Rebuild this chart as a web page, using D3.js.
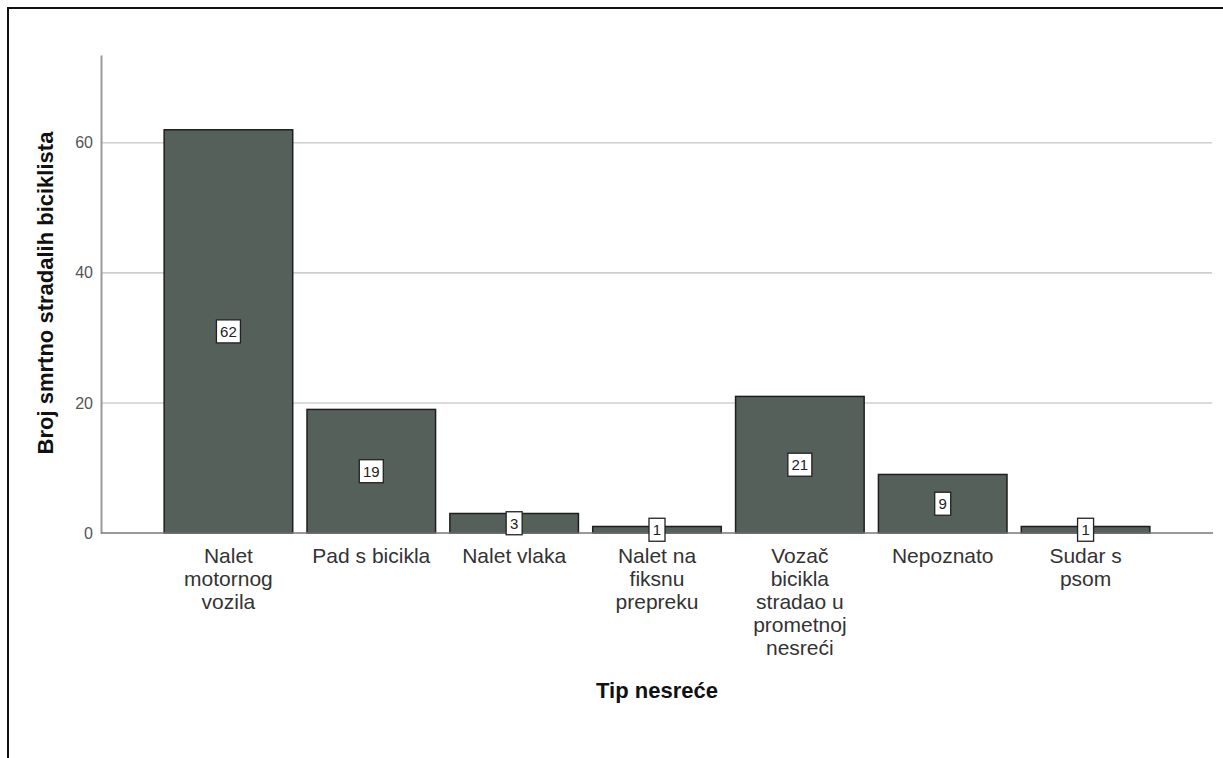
<!DOCTYPE html>
<html>
<head>
<meta charset="utf-8">
<script src="https://cdn.jsdelivr.net/npm/d3@7"></script>
<style>
  body { margin: 0; background: #fff; }
  svg { display: block; font-family: Arial, "Liberation Sans", sans-serif; }
</style>
</head>
<body>
<div id="chart"></div>
<script>
// Bar chart: fatalities among cyclists by accident type

const categories = ['Nalet motornog vozila', 'Pad s bicikla', 'Nalet vlaka', 'Nalet na fiksnu prepreku',
	'Vozač bicikla stradao u prometnoj nesreći', 'Nepoznato', 'Sudar s psom'];
const catLines = [
	['Nalet', 'motornog', 'vozila'],
	['Pad s bicikla'],
	['Nalet vlaka'],
	['Nalet na', 'fiksnu', 'prepreku'],
	['Vozač', 'bicikla', 'stradao u', 'prometnoj', 'nesreći'],
	['Nepoznato'],
	['Sudar s', 'psom']
];
const values = [62, 19, 3, 1, 21, 9, 1];
const yTicks = [0, 20, 40, 60];
const yTitle = 'Broj smrtno stradalih biciklista';
const xTitle = 'Tip nesreće';

const W = 1223, H = 758;
const plot = {left: 101, right: 1213, top: 55, bottom: 533};

const svg = d3.select('#chart').append('svg')
	.attr('width', W)
	.attr('height', H);

svg.append('rect')
	.attr('width', W).attr('height', H)
	.attr('fill', '#fff');

// outer frame (right and bottom edges fall outside the picture)
svg.append('rect')
	.attr('x', 8).attr('y', 8)
	.attr('width', 1400).attr('height', 1000)
	.attr('fill', 'none')
	.attr('stroke', '#111')
	.attr('stroke-width', 2);

const x = d3.scaleBand()
	.domain(categories)
	.range([157, 1157])
	.paddingInner(0.1)
	.paddingOuter(0.05);

const y = d3.scaleLinear()
	.domain([0, 73.5])
	.range([plot.bottom, plot.top]);

// gridlines
svg.append('g')
	.selectAll('line')
	.data(yTicks.filter(d => d > 0))
	.enter()
	.append('line')
	.attr('x1', plot.left).attr('x2', plot.right - 1)
	.attr('y1', d => y(d)).attr('y2', d => y(d))
	.attr('stroke', '#cfcfcf')
	.attr('stroke-width', 1.6);

// y axis
const yAxis = svg.append('g')
	.attr('transform', `translate(${plot.left},0)`)
	.call(d3.axisLeft(y).tickValues(yTicks).tickSize(0).tickPadding(8));
yAxis.select('.domain')
	.attr('stroke', '#9a9a9a')
	.attr('stroke-width', 2);
yAxis.selectAll('text')
	.attr('fill', '#555')
	.style('font-size', '16px')
	.style('font-family', 'Arial, "Liberation Sans", sans-serif');

// bars
svg.append('g')
	.selectAll('rect')
	.data(values)
	.enter()
	.append('rect')
	.attr('x', (d, i) => x(categories[i]))
	.attr('y', d => y(d))
	.attr('width', x.bandwidth())
	.attr('height', d => y(0) - y(d))
	.attr('fill', '#56605a')
	.attr('stroke', '#1e1e1e')
	.attr('stroke-width', 1.5);

// baseline
svg.append('line')
	.attr('x1', plot.left).attr('x2', plot.right)
	.attr('y1', y(0)).attr('y2', y(0))
	.attr('stroke', '#777')
	.attr('stroke-width', 1.6);

// value labels
const lab = svg.append('g')
	.selectAll('g')
	.data(values)
	.enter()
	.append('g')
	.attr('transform', (d, i) => `translate(${x(categories[i]) + x.bandwidth() / 2},${y(d / 2)})`);

lab.append('rect')
	.attr('x', d => String(d).length > 1 ? -12 : -8)
	.attr('y', -11.5)
	.attr('width', d => String(d).length > 1 ? 24 : 16)
	.attr('height', 23)
	.attr('fill', '#fff')
	.attr('stroke', '#222')
	.attr('stroke-width', 1.3);

lab.append('text')
	.attr('text-anchor', 'middle')
	.attr('dy', '0.36em')
	.style('font-size', '15px')
	.attr('fill', '#222')
	.text(d => d);

// category labels
const cat = svg.append('g')
	.selectAll('text')
	.data(catLines)
	.enter()
	.append('text')
	.attr('text-anchor', 'middle')
	.attr('fill', '#333')
	.style('font-size', '21px')
	.attr('transform', (d, i) => `translate(${x(categories[i]) + x.bandwidth() / 2},563)`);

cat.selectAll('tspan')
	.data(d => d)
	.enter()
	.append('tspan')
	.attr('x', 0)
	.attr('y', (d, j) => j * 23)
	.text(d => d);

// axis titles
svg.append('text')
	.attr('text-anchor', 'middle')
	.attr('transform', `translate(53,293) rotate(-90)`)
	.style('font-size', '22px')
	.style('font-weight', 'bold')
	.attr('fill', '#111')
	.text(yTitle);

svg.append('text')
	.attr('x', 657)
	.attr('y', 698)
	.attr('text-anchor', 'middle')
	.style('font-size', '22px')
	.style('font-weight', 'bold')
	.attr('fill', '#111')
	.text(xTitle);
</script>
</body>
</html>
